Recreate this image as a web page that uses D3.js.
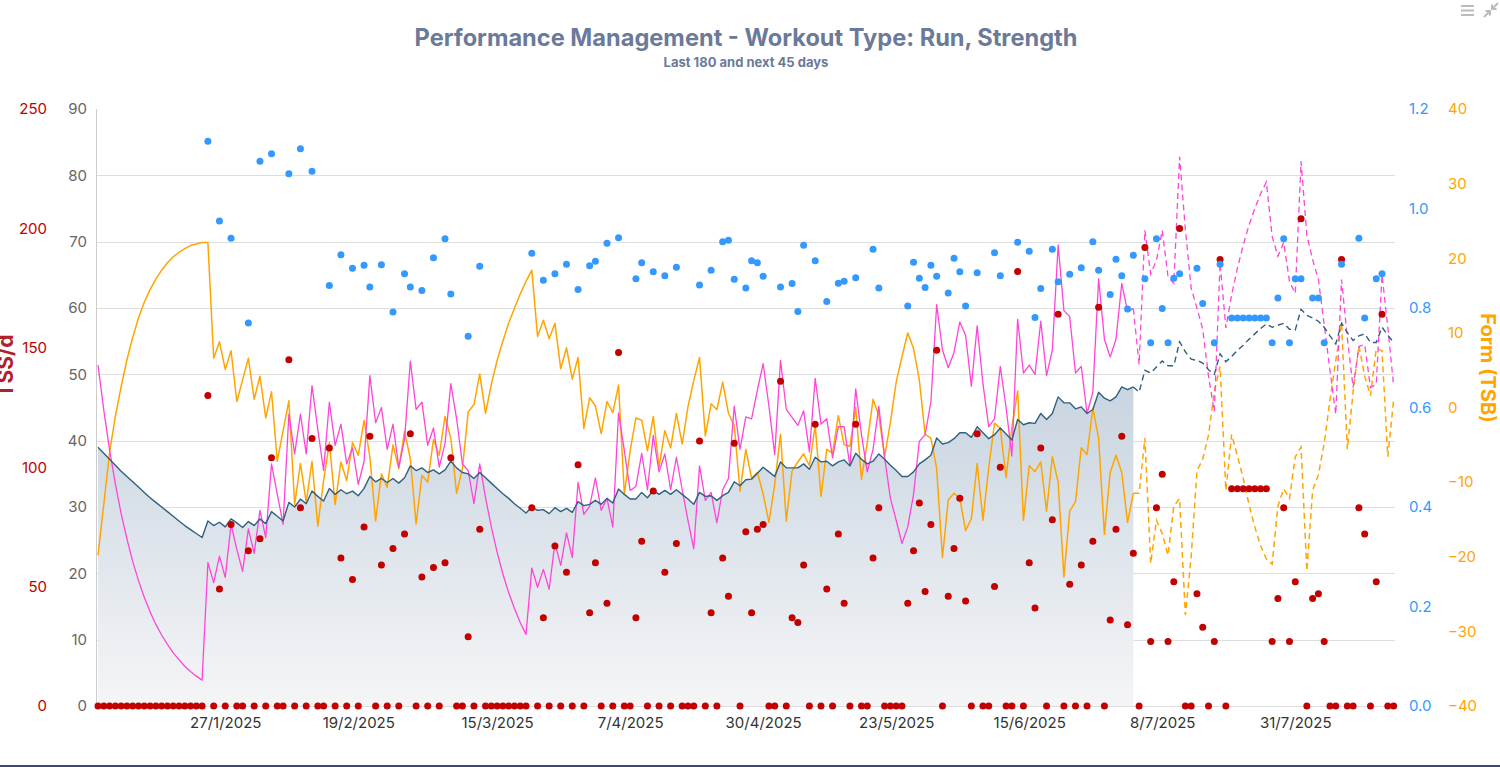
<!DOCTYPE html>
<html>
<head>
<meta charset="utf-8">
<script src="https://cdn.jsdelivr.net/npm/d3@7/dist/d3.min.js"></script>
<style>
html, body { margin: 0; padding: 0; background: #fff; }
svg { display: block; font-family: Inter, "Noto Sans", sans-serif; }
</style>
</head>
<body>
<div id="chart-container"></div>
<script>
const width = 1500;
const height = 767;

// first day of the window, and index of "today" (last actual day)
const startDay = "2025-01-05";
const todayIndex = 179;

// TSS per day (0 = rest day)
const tss = [
  0,0,0,0,0,0,0,0,0,0,
  0,0,0,0,0,0,0,0,0,130,
  0,49,0,76,0,0,65,0,70,0,
  104,0,0,145,0,83,0,112,0,0,
  108,0,62,0,53,0,75,113,0,59,
  0,66,0,72,114,0,54,0,58,0,
  60,104,0,0,29,0,74,0,0,0,
  0,0,0,0,0,83,0,37,0,67,
  0,56,0,101,0,39,60,0,43,0,
  148,0,0,37,69,0,90,0,56,0,
  68,0,0,0,111,0,39,0,62,46,
  110,0,73,39,74,76,0,0,136,0,
  37,35,59,0,118,0,49,0,72,43,
  0,118,0,0,62,83,0,0,0,0,
  43,65,85,48,76,149,0,46,66,87,
  44,0,114,0,0,50,100,0,0,182,
  0,60,41,108,0,78,164,0,51,0,
  59,0,69,167,0,36,74,113,34,64,
  0,192,27,83,97,27,52,200,0,0,
  47,33,0,27,187,0,91,91,91,91,
  91,91,91,27,45,83,27,52,204,0,
  45,47,27,0,0,187,0,0,83,72,
  0,52,164,0,0
];

// Intensity factor per day (null on rest days)
const intensity = [
  null,null,null,null,null,null,null,null,null,null,
  null,null,null,null,null,null,null,null,null,1.135,
  null,0.975,null,0.94,null,null,0.77,null,1.095,null,
  1.11,null,null,1.07,null,1.12,null,1.075,null,null,
  0.845,null,0.907,null,0.88,null,0.886,0.842,null,0.887,
  null,0.792,null,0.869,0.842,null,0.835,null,0.901,null,
  0.939,0.828,null,null,0.743,null,0.884,null,null,null,
  null,null,null,null,null,0.91,null,0.856,null,0.869,
  null,0.888,null,0.837,null,0.885,0.894,null,0.93,null,
  0.941,null,null,0.859,0.891,null,0.873,null,0.865,null,
  0.882,null,null,null,0.846,null,0.876,null,0.933,0.936,
  0.858,null,0.84,0.895,0.891,0.864,null,null,0.842,null,
  0.849,0.793,0.926,null,0.895,null,0.813,null,0.85,0.854,
  null,0.861,null,null,0.918,0.84,null,null,null,null,
  0.804,0.892,0.86,0.841,0.886,0.864,null,0.83,0.9,0.873,
  0.804,null,0.871,null,null,0.911,0.865,null,null,0.932,
  null,0.914,0.781,0.839,null,0.918,0.853,null,0.868,null,
  0.881,null,0.933,0.876,null,0.827,0.898,0.865,0.798,0.906,
  null,0.859,0.73,0.939,0.799,0.73,0.86,0.869,null,null,
  0.88,0.809,null,0.73,0.888,null,0.78,0.78,0.78,0.78,
  0.78,0.78,0.78,0.73,0.82,0.939,0.73,0.859,0.859,null,
  0.82,0.82,0.73,null,null,0.888,null,null,0.94,0.78,
  null,0.859,0.869,null,null
];

// Fitness (CTL)
const fitness = [
  39.0,38.1,37.2,36.3,35.4,34.6,33.8,33.0,32.2,31.4,
  30.7,30.0,29.3,28.6,27.9,27.2,26.6,26.0,25.4,27.9,
  27.2,27.7,27.0,28.2,27.6,26.9,27.8,27.2,28.2,27.5,
  29.3,28.6,27.9,30.7,30.0,31.2,30.5,32.4,31.6,30.9,
  32.8,31.9,32.6,32.0,32.4,31.7,32.8,34.6,33.8,34.3,
  33.7,34.3,33.6,34.4,36.2,35.5,35.9,35.2,35.6,35.0,
  35.6,36.9,35.9,35.2,35.0,34.3,35.2,34.4,33.6,32.8,
  32.0,31.3,30.5,29.8,29.1,30.0,29.5,29.6,29.0,29.9,
  29.3,29.8,29.2,30.8,30.2,30.4,31.0,30.4,31.3,30.6,
  32.7,31.9,31.2,31.2,32.2,31.4,32.5,31.9,32.5,31.9,
  32.6,31.9,31.2,30.4,32.2,31.6,31.7,31.0,31.7,32.2,
  33.8,33.2,34.1,34.2,35.1,36.0,35.3,34.6,36.8,35.9,
  35.9,35.9,36.5,35.7,37.5,36.8,36.9,36.2,36.8,37.1,
  36.2,38.1,37.2,36.5,36.9,38.0,37.2,36.3,35.5,34.6,
  34.6,35.3,36.5,37.1,37.8,40.4,39.5,39.7,40.3,41.2,
  41.2,40.5,42.1,41.2,40.3,40.9,41.9,41.0,40.1,43.2,
  42.4,42.7,42.6,44.1,43.2,44.1,46.6,45.7,45.7,44.8,
  45.1,44.1,44.7,47.3,46.4,46.0,46.6,48.1,47.7,48.1,
  47.3,50.6,50.2,51.1,52.0,51.3,51.3,54.9,53.4,52.3,
  52.1,51.7,50.7,50.0,53.1,51.9,52.7,53.6,54.4,55.3,
  56.1,56.9,57.6,57.1,57.4,57.7,56.8,56.7,59.8,58.9,
  58.5,58.0,57.1,55.8,54.6,57.7,56.3,55.1,55.8,56.1,
  54.8,54.8,57.1,55.9,54.8
];

// Fatigue (ATL)
const fatigue = [
  51.4,44.6,38.6,33.5,29.0,25.2,21.8,18.9,16.4,14.2,
  12.3,10.7,9.3,8.0,7.0,6.0,5.2,4.5,3.9,21.6,
  18.6,22.6,19.4,27.4,23.6,20.3,26.7,23.0,29.5,25.4,
  36.5,31.9,27.4,44.0,38.0,44.0,38.0,48.3,41.7,35.5,
  45.8,39.3,42.5,36.5,38.9,33.4,36.9,49.8,42.7,45.0,
  38.7,42.5,36.0,40.2,52.0,44.7,45.8,39.3,41.9,36.0,
  39.6,48.6,43.3,36.5,35.5,30.5,36.5,31.4,27.0,23.2,
  19.9,17.1,14.7,12.6,10.8,20.8,17.9,20.6,17.6,24.6,
  21.2,26.1,22.4,33.7,28.9,30.1,34.4,29.5,31.3,27.0,
  44.2,38.5,32.5,33.1,38.1,32.6,40.8,35.3,38.0,32.6,
  37.5,32.6,28.0,23.7,36.2,31.0,32.2,27.6,32.6,34.3,
  45.2,38.7,43.6,43.3,47.6,51.6,45.2,37.9,52.1,44.7,
  43.5,42.3,44.5,38.3,49.4,42.5,43.3,37.4,42.1,42.1,
  36.2,47.8,40.9,35.3,38.7,45.2,37.5,31.3,28.0,24.5,
  27.0,31.9,39.9,40.9,45.8,60.5,53.7,51.0,53.3,57.9,
  55.9,48.2,57.3,48.6,42.1,43.3,51.2,45.0,37.7,58.3,
  50.2,51.4,50.0,58.0,49.8,53.7,69.5,59.6,58.7,50.2,
  51.2,44.1,47.3,64.4,55.3,52.6,55.3,63.7,59.5,59.9,
  51.5,71.7,65.1,67.2,71.7,64.7,63.7,82.8,71.8,63.0,
  60.0,56.8,49.7,44.4,66.8,57.0,62.0,66.0,69.5,72.5,
  75.0,77.2,79.0,70.8,67.8,69.9,64.0,62.2,82.1,71.0,
  67.3,64.3,57.5,50.6,44.0,64.3,55.5,48.0,54.2,54.5,
  48.0,48.5,65.0,57.1,48.3
];

// Form (TSB)
const form = [
  -19.8,-13.0,-6.0,-1.2,2.8,6.4,9.4,12.0,14.1,15.8,
  17.2,18.4,19.4,20.2,20.8,21.3,21.7,21.9,22.1,22.1,
  6.6,8.8,5.1,7.6,0.8,3.7,6.6,1.1,4.2,-1.4,
  2.1,-7.2,-3.1,0.9,-13.0,-7.5,-12.7,-7.2,-15.9,-9.8,
  -4.7,-13.0,-7.3,-9.8,-4.7,-6.4,-1.7,-6.6,-15.2,-8.9,
  -10.7,-5.0,-8.2,-3.2,-6.9,-15.6,-9.1,-10.0,-4.3,-6.4,
  -1.2,-4.1,-11.5,-8.2,-0.6,0.4,4.5,-0.8,3.1,6.3,
  8.9,11.3,13.3,15.2,16.9,18.4,9.5,11.7,9.2,11.3,
  5.2,8.0,3.8,6.7,-2.8,1.3,0.2,-3.5,0.8,-0.7,
  3.0,-11.6,-5.8,-1.4,-1.7,-5.8,-1.2,-8.0,-3.1,-5.4,
  -0.8,-4.9,0.1,3.6,6.7,-3.8,0.5,-0.3,3.4,-0.8,
  -2.4,-11.2,-5.6,-9.5,-8.7,-11.6,-15.4,-10.3,-3.6,-15.2,
  -8.5,-7.3,-6.2,-7.8,-2.4,-11.9,-5.6,-6.1,-1.1,-5.0,
  -5.2,0.0,-9.6,-4.7,1.1,-1.1,-6.6,-2.0,3.4,6.8,
  10.0,7.9,3.7,-3.6,-4.1,-8.2,-20.1,-12.4,-11.5,-12.2,
  -16.5,-14.9,-7.5,-15.1,-8.1,-2.1,-2.8,-9.4,-2.7,2.2,
  -15.1,-7.8,-8.6,-7.3,-13.9,-6.6,-10.0,-22.7,-13.9,-12.6,
  -5.4,-6.3,-0.1,-4.1,-17.0,-8.7,-6.4,-8.7,-15.4,-11.5,
  -11.5,-4.1,-20.9,-15.1,-16.9,-19.8,-13.2,-12.2,-27.8,-20.0,
  -8.5,-6.9,-3.7,2.1,5.5,-11.1,-3.6,-6.5,-9.5,-13.0,
  -16.0,-18.5,-20.3,-21.0,-13.2,-10.9,-12.2,-6.6,-5.3,-21.9,
  -11.1,-9.0,-4.8,1.0,6.3,11.3,-5.6,2.1,8.3,4.2,
  1.6,7.9,7.6,-6.6,1.0
];

// x axis tick labels
const xTickLabels = ["27/1/2025", "19/2/2025", "15/3/2025", "7/4/2025", "30/4/2025",
                     "23/5/2025", "15/6/2025", "8/7/2025", "31/7/2025"];
const loadTicks = [0, 10, 20, 30, 40, 50, 60, 70, 80, 90];
const tssTicks = [0, 50, 100, 150, 200, 250];
const ifTicks = [0, 0.2, 0.4, 0.6, 0.8, 1.0, 1.2];
const formTicks = [-40, -30, -20, -10, 0, 10, 20, 30, 40];

const titleColor = "#6b7a99";
const ctlColor = "#30607f";
const atlColor = "#ff45d8";
const tsbColor = "#ffa500";
const tssColor = "#c20000";
const ifColor = "#3399ff";

const svg = d3.select("div#chart-container").append("svg")
    .attr("width", width)
    .attr("height", height);

const parseDay = d3.utcParse("%Y-%m-%d");
const parseTick = d3.utcParse("%d/%m/%Y");
const day0 = parseDay(startDay);
const days = tss.map((d, i) => d3.utcDay.offset(day0, i));

const plot = { left: 97, right: 1395, top: 109, bottom: 706 };

const xScale = d3.scaleUtc()
    .domain([days[0], days[days.length - 1]])
    .range([98, 1393.6]);
const yLoad = d3.scaleLinear().domain([0, 90]).range([plot.bottom, plot.top]);
const yTss = d3.scaleLinear().domain([0, 250]).range([plot.bottom, plot.top]);
const yIf = d3.scaleLinear().domain([0, 1.2]).range([plot.bottom, plot.top]);
const yForm = d3.scaleLinear().domain([-40, 40]).range([plot.bottom, plot.top]);

// gradient for the fitness area
const defs = svg.append("defs");
const grad = defs.append("linearGradient")
    .attr("id", "ctlFill")
    .attr("gradientUnits", "userSpaceOnUse")
    .attr("x1", 0).attr("x2", 0)
    .attr("y1", yLoad(50)).attr("y2", yLoad(0));
grad.append("stop").attr("offset", 0).attr("stop-color", "#c6d3df");
grad.append("stop").attr("offset", 1).attr("stop-color", "#f5f5f7");

// grid
svg.append("g")
    .selectAll("line")
    .data(loadTicks.filter(v => v < 90))
    .enter()
    .append("line")
    .attr("x1", plot.left)
    .attr("x2", plot.right)
    .attr("y1", d => Math.round(yLoad(d)) + 0.5)
    .attr("y2", d => Math.round(yLoad(d)) + 0.5)
    .attr("stroke", "#dedede")
    .attr("stroke-width", 1);

// left axis line
svg.append("line")
    .attr("x1", 96.5).attr("x2", 96.5)
    .attr("y1", plot.top).attr("y2", plot.bottom)
    .attr("stroke", "#cccccc");

const past = d3.range(0, todayIndex + 1);
const future = d3.range(todayIndex, days.length);

// fitness area (actual days)
const area = d3.area()
    .x(i => xScale(days[i]))
    .y0(yLoad(0))
    .y1(i => yLoad(fitness[i]));

svg.append("path")
    .attr("d", area(past))
    .attr("fill", "url(#ctlFill)");

function lineFor(values, yScale) {
    return d3.line()
        .x(i => xScale(days[i]))
        .y(i => yScale(values[i]));
}

const series = [
    { values: form, scale: yForm, color: tsbColor, w: 1.5 },
    { values: fatigue, scale: yLoad, color: atlColor, w: 1.3 },
    { values: fitness, scale: yLoad, color: ctlColor, w: 1.4 }
];

series.forEach(s => {
    svg.append("path")
        .attr("d", lineFor(s.values, s.scale)(past))
        .attr("fill", "none")
        .attr("stroke", s.color)
        .attr("stroke-width", s.w)
        .attr("stroke-linejoin", "round");
    svg.append("path")
        .attr("d", lineFor(s.values, s.scale)(future))
        .attr("fill", "none")
        .attr("stroke", s.color)
        .attr("stroke-width", s.w)
        .attr("stroke-dasharray", "6,4");
});

// TSS dots
svg.append("g")
    .selectAll("circle")
    .data(d3.range(days.length))
    .enter()
    .append("circle")
    .attr("cx", i => xScale(days[i]))
    .attr("cy", i => yTss(tss[i]))
    .attr("r", 3.5)
    .attr("fill", tssColor);

// intensity dots
svg.append("g")
    .selectAll("circle")
    .data(d3.range(days.length).filter(i => intensity[i] !== null))
    .enter()
    .append("circle")
    .attr("cx", i => xScale(days[i]))
    .attr("cy", i => yIf(intensity[i]))
    .attr("r", 3.5)
    .attr("fill", ifColor);

// x axis labels
const xaxis = d3.axisBottom(xScale)
    .tickValues(xTickLabels.map(parseTick))
    .tickFormat(d => d3.utcFormat("%-d/%-m/%Y")(d))
    .tickSize(0)
    .tickPadding(11);
const gx = svg.append("g")
    .attr("transform", "translate(0," + plot.bottom + ")")
    .call(xaxis);
gx.select(".domain").remove();
gx.selectAll("text")
    .attr("fill", "#333")
    .style("font-size", "15px")
    .style("font-family", "Inter, 'Noto Sans', sans-serif");

function styleAxis(g, color) {
    g.select(".domain").remove();
    g.selectAll("text")
        .attr("fill", color)
        .style("font-size", "15px")
        .style("font-family", "Inter, 'Noto Sans', sans-serif");
}

const gLoad = svg.append("g")
    .attr("transform", "translate(87,0)")
    .call(d3.axisLeft(yLoad).tickValues(loadTicks).tickSize(0).tickPadding(0));
styleAxis(gLoad, "#666");

const gTss = svg.append("g")
    .attr("transform", "translate(47,0)")
    .call(d3.axisLeft(yTss).tickValues(tssTicks).tickSize(0).tickPadding(0));
styleAxis(gTss, tssColor);

const gIf = svg.append("g")
    .attr("transform", "translate(1409,0)")
    .call(d3.axisRight(yIf).tickValues(ifTicks).tickSize(0).tickPadding(0)
        .tickFormat(d3.format(".1f")));
styleAxis(gIf, ifColor);

const gForm = svg.append("g")
    .attr("transform", "translate(1448,0)")
    .call(d3.axisRight(yForm).tickValues(formTicks).tickSize(0).tickPadding(0));
styleAxis(gForm, tsbColor);

// axis titles
svg.append("text")
    .attr("transform", "translate(13,366) rotate(-90)")
    .attr("text-anchor", "middle")
    .attr("fill", "#b3202a")
    .style("font-size", "21px")
    .style("font-weight", "700")
    .text("TSS/d");

svg.append("text")
    .attr("transform", "translate(1481,368) rotate(90)")
    .attr("text-anchor", "middle")
    .attr("fill", tsbColor)
    .style("font-size", "20px")
    .style("font-weight", "700")
    .text("Form (TSB)");

// title and subtitle
svg.append("text")
    .attr("x", 746).attr("y", 46)
    .attr("text-anchor", "middle")
    .attr("fill", titleColor)
    .style("font-size", "23.6px")
    .style("font-weight", "700")
    .text("Performance Management - Workout Type: Run, Strength");

svg.append("text")
    .attr("x", 746).attr("y", 67)
    .attr("text-anchor", "middle")
    .attr("fill", titleColor)
    .style("font-size", "13px")
    .style("font-weight", "700")
    .text("Last 180 and next 45 days");

// menu and collapse icons
const icons = svg.append("g").attr("stroke", "#bbbbbb").attr("stroke-width", 2);
[6, 10.5, 15].forEach(y => {
    icons.append("line").attr("x1", 1461).attr("x2", 1474).attr("y1", y).attr("y2", y);
});
icons.append("path").attr("fill", "none")
    .attr("d", "M1498,3 L1492,9 M1492,4.5 L1492,9 L1496.5,9 M1484,17 L1490,11 M1485.5,11 L1490,11 L1490,15.5");

// bottom border
svg.append("rect")
    .attr("x", 0).attr("y", 765)
    .attr("width", width).attr("height", 2)
    .attr("fill", "#3b4a73");
</script>
</body>
</html>
